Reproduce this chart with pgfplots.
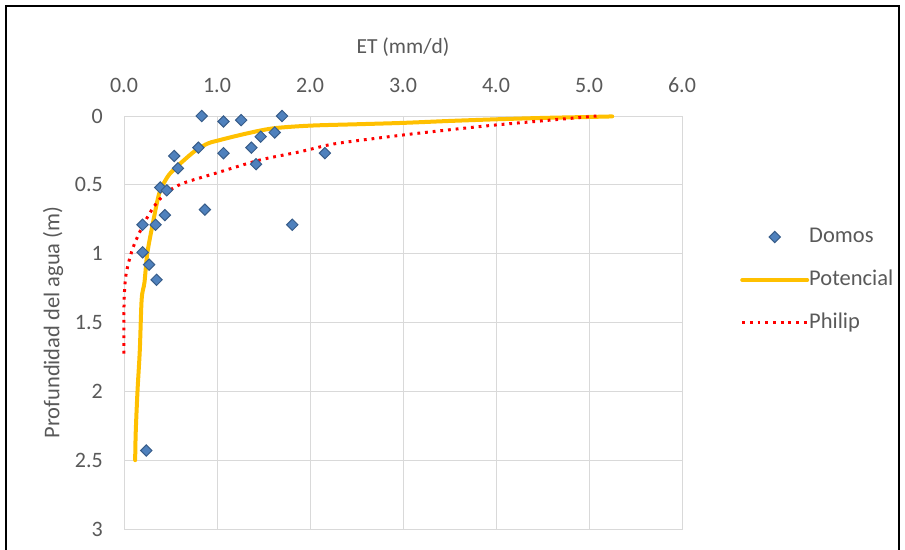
\documentclass[border=0pt]{standalone}
\usepackage{fontspec}
\setmainfont{Carlito}
\usepackage{pgfplots}
\pgfplotsset{compat=1.18}
\definecolor{txt}{HTML}{595959}
\definecolor{gridc}{HTML}{D9D9D9}
\definecolor{domfill}{HTML}{4F81BD}
\definecolor{domdraw}{HTML}{385D8A}
\definecolor{pot}{HTML}{FFC000}
\pgfplotsset{
  markleg/.style={legend image code/.code={\draw[##1] plot coordinates {(32.5bp,0bp)};}},
  lineleg/.style={legend image code/.code={\draw[##1] (0bp,0bp) -- (65bp,0bp);}},
}
\begin{document}
\begin{tikzpicture}
\path[use as bounding box] (0bp,0bp) rectangle (905bp,550bp);
\draw[line width=2bp] (6bp,0bp) -- (6bp,544bp) -- (899bp,544bp) -- (899bp,0bp);
\begin{axis}[
  at={(124bp,21bp)}, anchor=south west,
  scale only axis, width=558bp, height=413bp,
  xmin=0, xmax=6, ymin=0, ymax=3,
  y dir=reverse,
  xtick={0,1,2,3,4,5,6}, ytick={0,0.5,1,1.5,2,2.5,3},
  xticklabel pos=upper,
  major tick length=0pt,
  grid=major,
  grid style={gridc, line width=1bp},
  axis line style={gridc, line width=1bp},
  clip=false,
  font=\fontsize{22bp}{26bp}\selectfont,
  /pgf/number format/assume math mode=true,
  xticklabel style={/pgf/number format/.cd, fixed, fixed zerofill, precision=1, /tikz/.cd, text=txt, anchor=south, inner sep=0pt, yshift=23bp},
  yticklabel style={text=txt, anchor=east, inner sep=0pt, xshift=-21bp},
  xlabel={ET (mm/d)},
  xlabel style={at={(axis description cs:0.5,1)}, anchor=center, yshift=69bp, text=txt, font=\fontsize{21.5bp}{25bp}\selectfont},
  ylabel={Profundidad del agua (m)},
  ylabel style={at={(axis description cs:0,0.5)}, anchor=center, yshift=71bp, text=txt, font=\fontsize{22.5bp}{26bp}\selectfont},
  legend style={at={(1.104,0.603)}, anchor=west, draw=none, fill=none, text=txt,
    font=\fontsize{22.5bp}{26bp}\selectfont, row sep=24bp, inner sep=0pt,
    nodes={text height=15bp, text depth=4bp, inner sep=0pt},
    /tikz/every even column/.append style={column sep=5bp}},
  legend cell align=left,
]
\addplot[only marks, mark=square*, mark size=4bp,
  mark options={rotate=45, fill=domfill, draw=domdraw, line width=1bp},
  markleg]
coordinates {
(0.835,0.0) (1.07,0.04) (1.26,0.03) (1.70,0.0) (1.62,0.12) (1.47,0.15)
(1.37,0.23) (1.07,0.27) (1.42,0.35) (2.16,0.27) (0.80,0.23) (0.54,0.29)
(0.58,0.38) (0.39,0.52) (0.46,0.54) (0.87,0.68) (0.44,0.72) (0.20,0.79)
(0.34,0.79) (1.81,0.79) (0.20,0.99) (0.27,1.08) (0.35,1.19) (0.24,2.43)
};
\addlegendentry{Domos}
\addplot[pot, line width=4bp, line cap=round, smooth, lineleg]
coordinates {
(5.25,0.003) (5.0,0.007) (4.5,0.014) (4.0,0.024) (3.5,0.036) (3.0,0.05)
(2.5,0.06) (2.0,0.07) (1.6,0.09) (1.3,0.13) (1.0,0.18) (0.9,0.2) (0.77,0.25)
(0.63,0.33) (0.55,0.38) (0.47,0.44) (0.38,0.56) (0.31,0.78) (0.25,1.0)
(0.22,1.21) (0.19,1.33) (0.17,1.7) (0.145,2.0) (0.126,2.3) (0.12,2.5)
};
\addlegendentry{Potencial}
\addplot[red, line width=3bp, dash pattern=on 2.8bp off 4.9bp, smooth, lineleg]
coordinates {
(5.08,0.0) (5.0,0.005) (4.5,0.035) (4.0,0.065) (3.5,0.1) (3.0,0.138)
(2.43,0.186) (2.2,0.21) (1.89,0.26) (1.46,0.32) (0.99,0.415) (0.63,0.49)
(0.45,0.56) (0.32,0.66) (0.2,0.80) (0.09,0.97) (0.02,1.16) (0.0,1.38) (0.0,1.75)
};
\addlegendentry{Philip}
\end{axis}
\end{tikzpicture}
\end{document}
